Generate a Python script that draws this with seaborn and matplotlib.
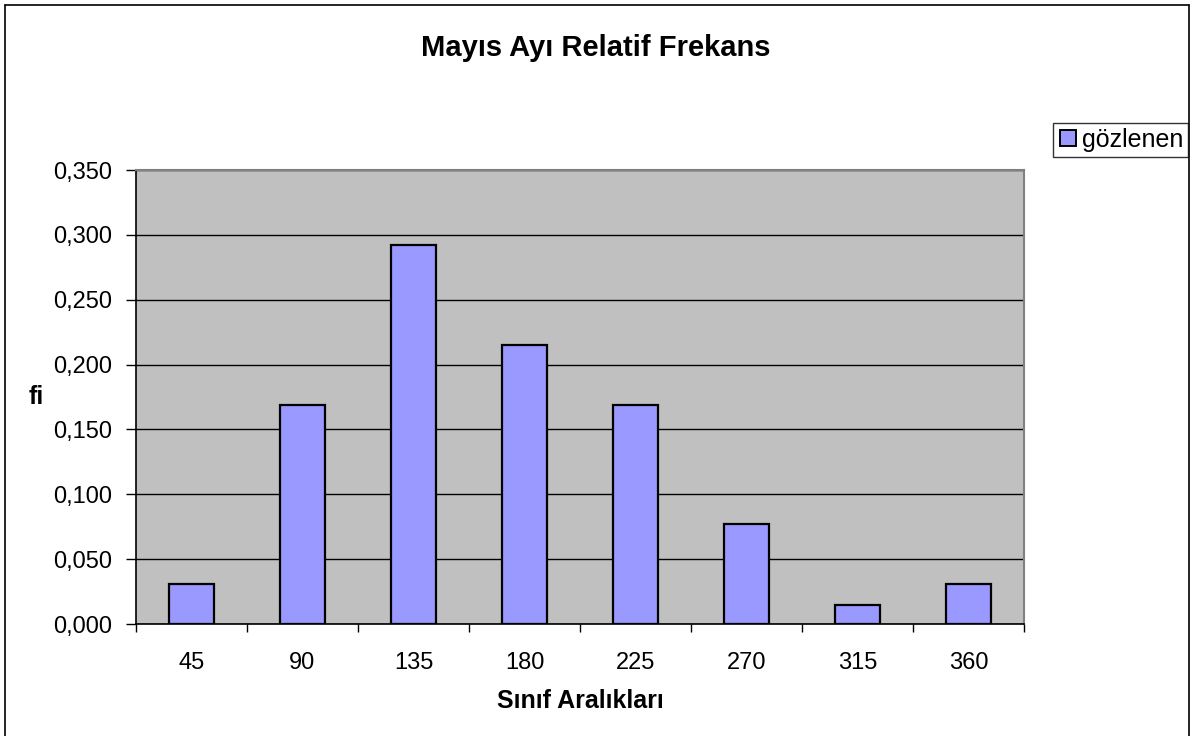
import matplotlib
matplotlib.use("Agg")
import matplotlib.pyplot as plt
import seaborn as sns
import pandas as pd
from matplotlib.ticker import FuncFormatter, FixedLocator
from matplotlib.lines import Line2D

categories = ["45", "90", "135", "180", "225", "270", "315", "360"]
values = [0.031, 0.169, 0.292, 0.215, 0.169, 0.077, 0.015, 0.031]
yticks = [0.0, 0.05, 0.10, 0.15, 0.20, 0.25, 0.30, 0.35]

sns.set_theme(style="white")
plt.rcParams["font.family"] = ["Liberation Sans", "DejaVu Sans"]
plt.rcParams["text.color"] = "black"
plt.rcParams["axes.labelcolor"] = "black"

df = pd.DataFrame({"sinif": categories, "fi": values})

fig = plt.figure(figsize=(11.91, 7.36), dpi=100)
ax = fig.add_axes([136/1191, 1-624/736, (1024-136)/1191, (624-170)/736])
ax.set_facecolor("#C0C0C0")

sns.barplot(data=df, x="sinif", y="fi", color="#9999FF", edgecolor="black",
            linewidth=1.6, width=0.41, saturation=1, ax=ax, zorder=3)

ax.set_xlim(-0.5, len(categories) - 0.5)
ax.set_ylim(0, 0.35)
ax.set_yticks(yticks)
ax.yaxis.set_major_formatter(FuncFormatter(lambda v, p: f"{v:.3f}".replace(".", ",")))
ax.yaxis.grid(True, color="black", linewidth=1.0, zorder=1)
ax.set_axisbelow(True)

ax.xaxis.set_minor_locator(FixedLocator([i - 0.5 for i in range(len(categories) + 1)]))
ax.tick_params(axis="x", which="major", length=0, pad=20, labelsize=17, colors="black")
ax.tick_params(axis="x", which="minor", length=6, width=1, color="black", direction="out", bottom=True)
ax.tick_params(axis="y", which="major", length=7, width=1, color="black", direction="out",
               left=True, labelsize=17, colors="black", pad=10)

for s in ["left", "bottom"]:
    ax.spines[s].set_color("black")
    ax.spines[s].set_linewidth(1.2)
for s in ["top", "right"]:
    ax.spines[s].set_color("#808080")
    ax.spines[s].set_linewidth(1.5)

ax.set_xlabel("Sınıf Aralıkları", fontsize=18, fontweight="bold", labelpad=11, color="black")
ax.set_ylabel("")
fig.text(36/1191, 1-397/736, "fi", fontsize=18, fontweight="bold", ha="center", va="center",
         color="black")

fig.text(596/1191, 1-48/736, "Mayıs Ayı Relatif Frekans", fontsize=21, fontweight="bold",
         ha="center", va="center", color="black")

handle = Line2D([], [], marker="s", linestyle="none", markersize=11,
                markerfacecolor="#9999FF", markeredgecolor="black", markeredgewidth=1.4)
leg = fig.legend([handle], ["gözlenen"], loc="upper right",
                 bbox_to_anchor=(1188/1191, 1-123/736), frameon=True, fancybox=False,
                 edgecolor="black", fontsize=18, handletextpad=0.15, borderpad=0.2,
                 handlelength=0.8, borderaxespad=0)
leg.get_frame().set_linewidth(1.0)
for t in leg.get_texts():
    t.set_color("black")

# figure border
for (x0, y0, x1, y1) in [(5, 5, 5, 736), (5, 5, 1189, 5), (1189, 5, 1189, 736)]:
    fig.add_artist(Line2D([x0/1191, x1/1191], [1-y0/736, 1-y1/736], color="black", linewidth=1.2))

fig.savefig("out.png", dpi=100, facecolor="white")
